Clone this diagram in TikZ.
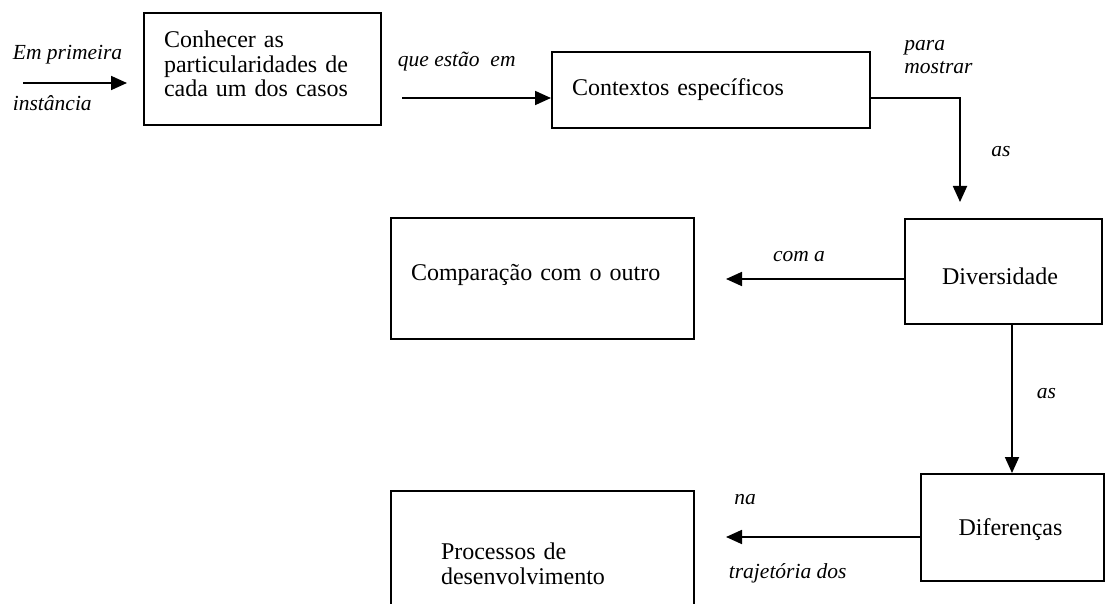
\documentclass[tikz,border=0pt]{standalone}
\usepackage{fontspec}
\setmainfont{Liberation Serif}
\usetikzlibrary{arrows.meta}

\begin{document}
\begin{tikzpicture}[x=1pt,y=-1pt,->,>={Triangle[length=16pt,width=14pt]},line width=1.8pt]
\tikzstyle{box}=[draw,rectangle,line width=2pt,align=left,inner xsep=20pt,font=\fontsize{24}{24.5}\selectfont]
\tikzstyle{lbl}=[font=\fontsize{21.5}{23}\selectfont\itshape,inner sep=0pt]

\useasboundingbox (0,0) rectangle (1106,604);
\clip (0,0) rectangle (1106,604);

\node[box,minimum width=237pt,minimum height=112pt,text width=197pt,text depth=59pt] (conhecer) at (262.5,69) {Conhecer as\\particularidades de\\cada um dos casos};
\node[box,minimum width=318pt,minimum height=76pt,text width=278pt] (contextos) at (711,90) {Contextos específicos};
\node[box,minimum width=197pt,minimum height=105pt,inner xsep=37pt,text width=123pt,text height=26pt] (diversidade) at (1003.5,271.5) {Diversidade};
\node[box,minimum width=303pt,minimum height=121pt,text width=263pt,text depth=13pt] (comparacao) at (542.5,278.5) {Comparação com o outro};
\node[box,minimum width=183pt,minimum height=107pt,inner xsep=38pt,text width=107pt,text height=22pt] (diferencas) at (1012,527.5) {Diferenças};
\node[box,minimum width=303pt,minimum height=146pt,inner xsep=50pt,text width=203pt] (processos) at (542.5,564) {Processos de\\desenvolvimento};

\coordinate (inicio) at (23,83);
\draw[shorten >=16pt] (inicio) -- (inicio -| conhecer.west);
\node[lbl,anchor=west] (emprimeira) at (12,55) {Em primeira};
\node[lbl,anchor=west] (instancia) at (12,103) {instância};

\coordinate (c2in) at ([yshift=-8pt]contextos.west);
\draw[shorten <=20pt] (c2in -| conhecer.east) -- (c2in);
\node[lbl,anchor=west] (queestao) at (397,62) {que estão\ \ em};

\coordinate (c2out) at ([yshift=-8pt]contextos.east);
\draw[shorten >=16pt] (c2out) -| ([xshift=-43.5pt]diversidade.north);
\node[lbl,align=left] (paramostrar) at (938.5,57) {para\\mostrar};
\node[lbl] (as1) at (1001,152) {as};

\coordinate (c3out) at ([yshift=-7.5pt]diversidade.west);
\draw[shorten >=31pt] (c3out) -- (c3out -| comparacao.east);
\node[lbl] (coma) at (799,257) {com a};

\draw (diversidade.south -| diferencas.north) -- (diferencas.north);
\node[lbl] (as2) at (1046.5,394) {as};

\coordinate (c5out) at ([yshift=-9.5pt]diferencas.west);
\draw[shorten >=31pt] (c5out) -- (c5out -| processos.east);
\node[lbl] (na) at (745,500) {na};
\node[lbl,anchor=west] (trajetoria) at (728,573) {trajetória dos};
\end{tikzpicture}
\end{document}
